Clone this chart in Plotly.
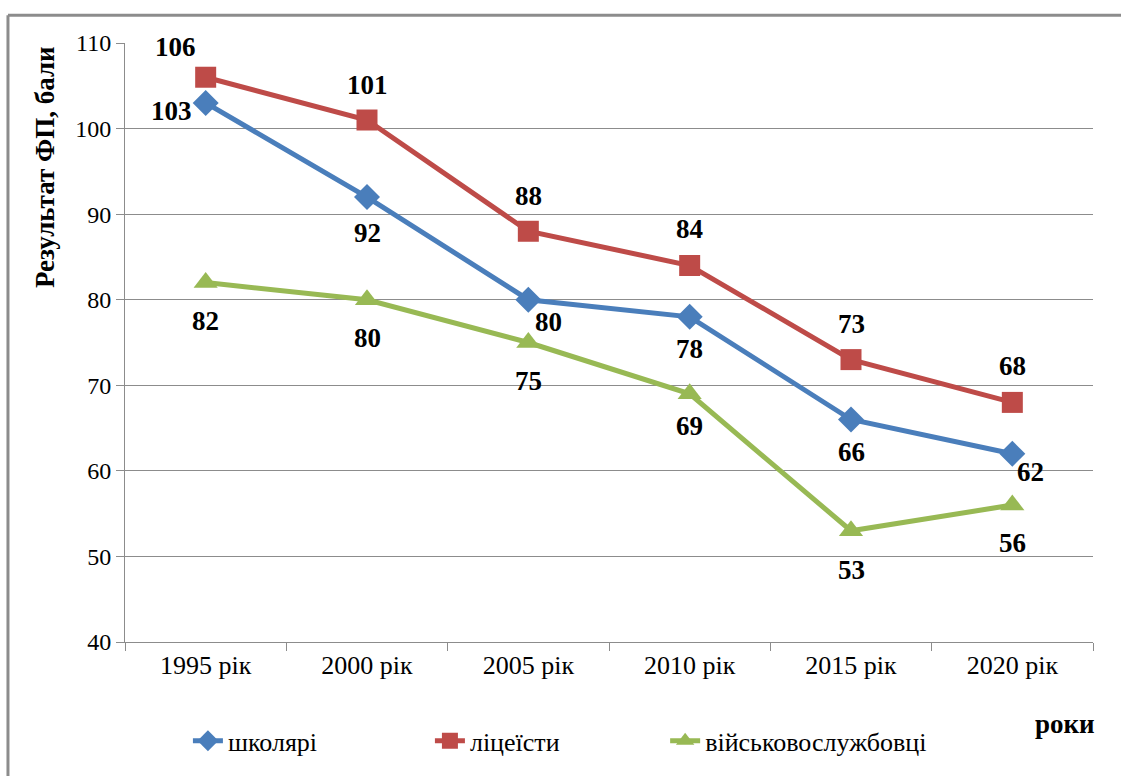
import plotly.graph_objects as go

categories = ["1995 рік", "2000 рік", "2005 рік", "2010 рік", "2015 рік", "2020 рік"]
shkolyari = [103, 92, 80, 78, 66, 62]
litseisty = [106, 101, 88, 84, 73, 68]
viiskovi = [82, 80, 75, 69, 53, 56]

series_names = ["школярі", "ліцеїсти", "військовослужбовці"]
colors = ["#4A7EBB", "#BE4B48", "#98B954"]
symbols = ["diamond", "square", "triangle-up"]
msizes = [20, 21, 21]

# label offsets (px) per point
offs = [
    [(-34, -8), (0, -36), (20, -22), (0, -32), (0, -32), (18, -18)],
    [(-30, 30), (0, 35), (0, 35), (0, 36), (0, 36), (0, 36)],
    [(0, -38), (0, -38), (0, -38), (0, -32), (0, -39), (0, -38)],
]

FONT = "Liberation Serif"
legend_names = ["legend", "legend2", "legend3"]
legend_x = [0.065, 0.315, 0.558]

fig = go.Figure()
all_vals = [shkolyari, litseisty, viiskovi]
for name, vals, col, sym, ms, lg in zip(series_names, all_vals, colors, symbols, msizes, legend_names):
    fig.add_trace(go.Scatter(
        x=categories, y=vals, name=name, mode="lines+markers",
        line=dict(color=col, width=5),
        marker=dict(symbol=sym, size=ms, color=col),
        legend=lg,
    ))

annotations = []
for vals, off in zip(all_vals, offs):
    for c, v, (dx, dy) in zip(categories, vals, off):
        annotations.append(dict(
            x=c, y=v, xref="x", yref="y", text=f"<b>{v}</b>", showarrow=False,
            xshift=dx, yshift=dy, font=dict(family=FONT, size=27, color="black"),
        ))

annotations.append(dict(
    xref="paper", yref="paper", x=-0.0826, y=0.793, xanchor="center", yanchor="middle",
    text="<b>Результат ФП, бали</b>",
    textangle=-90, showarrow=False, font=dict(family=FONT, size=27, color="black"),
))
annotations.append(dict(
    xref="paper", yref="paper", x=0.971, y=-0.137, xanchor="center", yanchor="middle",
    text="<b>роки</b>",
    showarrow=False, font=dict(family=FONT, size=27, color="black"),
))

legend_common = dict(orientation="h", xanchor="left", y=-0.165, yanchor="middle",
                     font=dict(family=FONT, size=26, color="black"), bgcolor="rgba(0,0,0,0)")

fig.update_layout(
    width=1121, height=776,
    margin=dict(l=125, r=28, t=43, b=130),
    paper_bgcolor="white", plot_bgcolor="white",
    font=dict(family=FONT, size=25, color="black"),
    showlegend=True,
    legend=dict(x=legend_x[0], **legend_common),
    legend2=dict(x=legend_x[1], **legend_common),
    legend3=dict(x=legend_x[2], **legend_common),
    annotations=annotations,
    shapes=[
        dict(type="line", xref="paper", yref="paper", x0=-0.1209, x1=1.2, y0=1.0464, y1=1.0464,
             line=dict(color="#8C8C8C", width=3), layer="below"),
        dict(type="line", xref="paper", yref="paper", x0=-0.1209, x1=-0.1209, y0=-0.3, y1=1.0464,
             line=dict(color="#8C8C8C", width=3), layer="below"),
    ],
)
fig.update_xaxes(
    type="category", showgrid=False, showline=True, linecolor="#8C8C8C", linewidth=1,
    ticks="outside", tickson="boundaries", ticklen=8, tickcolor="#8C8C8C",
    tickfont=dict(family=FONT, size=26, color="black"), range=[-0.5, 5.5],
)
fig.update_yaxes(
    range=[40, 110], dtick=10, showgrid=True, gridcolor="#8C8C8C", gridwidth=1,
    showline=True, linecolor="#8C8C8C", linewidth=1, zeroline=False,
    ticks="outside", ticklen=8, tickcolor="#8C8C8C",
    tickfont=dict(family=FONT, size=24, color="black"),
)

fig.write_html("out.html")
